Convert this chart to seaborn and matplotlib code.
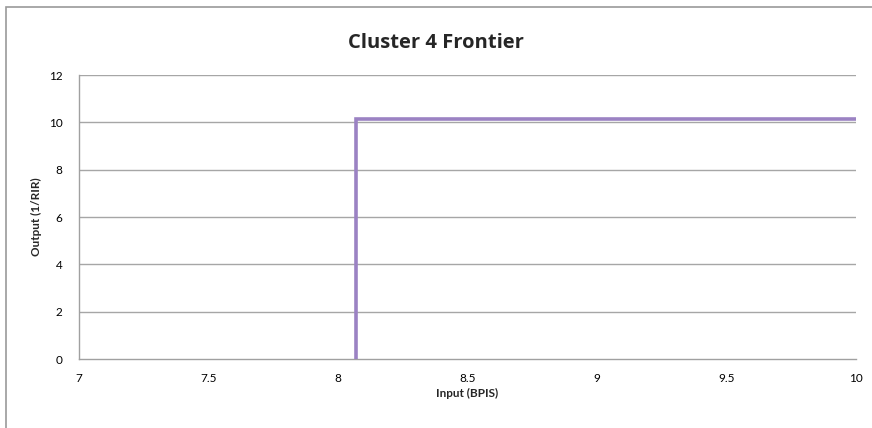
import matplotlib
matplotlib.use("Agg")
import matplotlib.pyplot as plt
import seaborn as sns
import pandas as pd
from matplotlib.patches import Rectangle

sns.set_theme(style="white")
plt.rcParams['font.family'] = ['Lato', 'DejaVu Sans']

# Data
frontier_x = [8.07, 8.07, 10.0]
frontier_y = [0.0, 10.15, 10.15]
x_ticks = [7, 7.5, 8, 8.5, 9, 9.5, 10]
x_tick_labels = ["7", "7.5", "8", "8.5", "9", "9.5", "10"]
y_ticks = [0, 2, 4, 6, 8, 10, 12]
title = "Cluster 4 Frontier"
x_label = "Input (BPIS)"
y_label = "Output (1/RIR)"

df = pd.DataFrame({"x": frontier_x, "y": frontier_y})

fig = plt.figure(figsize=(8.72, 4.28), dpi=100)
fig.patch.set_facecolor("white")
# outer chart border
fig.add_artist(Rectangle((5.5/872, -0.05), 1.0, 1 - 6.5/428 + 0.05, transform=fig.transFigure,
                         fill=False, edgecolor="#9a9a9a", linewidth=1.2))

ax = fig.add_axes([79/872, 1 - 359/428, (856 - 79)/872, (359 - 75)/428])
ax.set_facecolor("white")
for yv in y_ticks[1:]:
    ax.axhline(yv, color="#a6a6a6", linewidth=1.0, zorder=0)

sns.lineplot(data=df, x="x", y="y", sort=False, ax=ax, color="#9b82c3",
             linewidth=2.6, estimator=None, zorder=3, solid_joinstyle="miter")

ax.set_xlim(7, 10)
ax.set_ylim(0, 12)
ax.set_xticks(x_ticks)
ax.set_xticklabels(x_tick_labels)
ax.set_yticks(y_ticks)
ax.tick_params(axis="both", which="both", labelsize=8.5, direction="out", length=4,
               color="#a0a0a0", width=1.0, colors="black")
ax.tick_params(axis="y", pad=8)
ax.tick_params(axis="x", pad=6)
ax.tick_params(axis="both", color="#a0a0a0")
for s in ["top", "right"]:
    ax.spines[s].set_visible(False)
for s in ["left", "bottom"]:
    ax.spines[s].set_color("#a0a0a0")
    ax.spines[s].set_linewidth(1.0)

ax.set_xlabel(x_label, fontsize=8.5, fontweight="bold", labelpad=3)
ax.set_ylabel(y_label, fontsize=8.5, fontweight="bold", labelpad=5)
fig.text(0.5, 1 - 43/428, title, ha="center", va="center", fontsize=14.5,
         fontweight="bold", family=["Open Sans", "DejaVu Sans"])

fig.savefig("out.png", dpi=100, facecolor="white")
